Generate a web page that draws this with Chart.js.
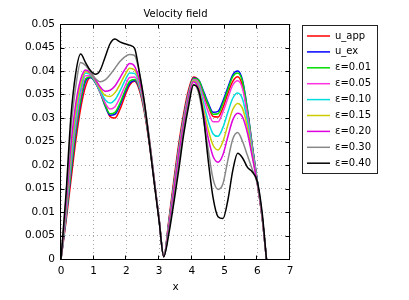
<!DOCTYPE html>
<html><head><meta charset="utf-8">
<script src="https://cdn.jsdelivr.net/npm/chart.js@4"></script>
<style>html,body{margin:0;padding:0;background:#fff;overflow:hidden}canvas{display:block}</style>
</head><body>
<canvas id="c" width="409" height="300"></canvas>
<script>
const xs = [0,0.15,0.3,0.45,0.6,0.75,0.9,1.05,1.2,1.35,1.5,1.65,1.8,1.95,2.1,2.25,2.4,2.55,2.7,2.85,3.0,3.14,
  3.3,3.45,3.6,3.75,3.9,4.05,4.2,4.35,4.5,4.65,4.8,4.95,5.1,5.25,5.4,5.55,5.7,5.85,6.0,6.15,6.28];

const uApp = [0,0.0078,0.0165,0.0250,0.0320,0.0367,0.0386,0.0379,0.0358,0.0329,0.0303,0.0300,0.0318,0.0346,0.0370,0.0378,0.0358,0.0312,0.0245,0.0165,0.0083,0.0005,
  0.0085,0.0168,0.0245,0.0310,0.0360,0.0387,0.0380,0.0350,0.0325,0.0303,0.0302,0.0322,0.0352,0.0378,0.0388,0.0368,0.0310,0.0235,0.0165,0.0088,0];
const uEx = [0,0.0084,0.0179,0.0265,0.0333,0.0378,0.0386,0.0375,0.0354,0.0325,0.0306,0.0308,0.0327,0.0353,0.0374,0.0380,0.0362,0.0316,0.0248,0.0166,0.0083,0.0005,
  0.0080,0.0160,0.0237,0.0303,0.0354,0.0385,0.0382,0.0358,0.0332,0.0312,0.0314,0.0336,0.0365,0.0392,0.0400,0.0380,0.0318,0.0240,0.0167,0.0088,0];
const eps001 = [0,0.0087,0.0185,0.0272,0.0338,0.0383,0.0388,0.0376,0.0354,0.0327,0.0309,0.0312,0.0331,0.0357,0.0378,0.0382,0.0363,0.0317,0.0249,0.0166,0.0083,0.0005,
  0.0079,0.0158,0.0235,0.0301,0.0353,0.0384,0.0381,0.0355,0.0328,0.0308,0.0309,0.0331,0.0360,0.0388,0.0396,0.0377,0.0316,0.0239,0.0166,0.0088,0];
const eps005 = [0,0.0092,0.0199,0.0286,0.0350,0.0390,0.0390,0.0377,0.0355,0.0332,0.0319,0.0324,0.0343,0.0367,0.0386,0.0387,0.0366,0.0320,0.0251,0.0167,0.0083,0.0005,
  0.0077,0.0155,0.0232,0.0298,0.0351,0.0382,0.0376,0.0345,0.0313,0.0292,0.0292,0.0313,0.0342,0.0370,0.0379,0.0362,0.0306,0.0234,0.0165,0.0088,0];
const eps010 = [0,0.0098,0.0212,0.0301,0.0362,0.0396,0.0392,0.0378,0.0358,0.0339,0.0332,0.0339,0.0357,0.0379,0.0396,0.0395,0.0371,0.0323,0.0252,0.0168,0.0083,0.0005,
  0.0075,0.0152,0.0228,0.0294,0.0348,0.0380,0.0371,0.0333,0.0293,0.0266,0.0261,0.0280,0.0312,0.0342,0.0353,0.0340,0.0292,0.0227,0.0163,0.0088,0];
const eps015 = [0,0.0104,0.0226,0.0315,0.0372,0.0399,0.0394,0.0380,0.0362,0.0348,0.0346,0.0354,0.0371,0.0391,0.0406,0.0402,0.0376,0.0326,0.0254,0.0168,0.0083,0.0005,
  0.0073,0.0149,0.0225,0.0291,0.0346,0.0379,0.0367,0.0322,0.0275,0.0242,0.0232,0.0250,0.0285,0.0318,0.0331,0.0320,0.0280,0.0221,0.0161,0.0088,0];
const eps020 = [0,0.0109,0.0239,0.0330,0.0382,0.0402,0.0396,0.0382,0.0366,0.0357,0.0359,0.0368,0.0385,0.0403,0.0416,0.0410,0.0380,0.0328,0.0255,0.0169,0.0083,0.0005,
  0.0071,0.0146,0.0222,0.0288,0.0344,0.0377,0.0363,0.0312,0.0257,0.0218,0.0206,0.0222,0.0260,0.0296,0.0310,0.0302,0.0268,0.0216,0.0160,0.0088,0];
const eps030 = [0,0.0124,0.0273,0.0366,0.0418,0.0412,0.0398,0.0384,0.0377,0.0381,0.0392,0.0406,0.0420,0.0430,0.0435,0.0433,0.0395,0.0333,0.0257,0.0170,0.0083,0.0005,
  0.0062,0.0130,0.0203,0.0275,0.0335,0.0372,0.0355,0.0300,0.0233,0.0170,0.0148,0.0160,0.0210,0.0255,0.0269,0.0250,0.0220,0.0190,0.0160,0.0090,0];
const eps040 = [0,0.0135,0.0300,0.0395,0.0436,0.0418,0.0401,0.0393,0.0402,0.0430,0.0458,0.0468,0.0462,0.0458,0.0455,0.0448,0.0395,0.0333,0.0248,0.0162,0.0080,0.0005,
  0.0055,0.0120,0.0190,0.0265,0.0325,0.0370,0.0360,0.0305,0.0210,0.0130,0.0090,0.0086,0.0125,0.0188,0.0225,0.0215,0.0195,0.0185,0.0165,0.0098,0];

const seriesLabels = ['u_app','u_ex','ε=0.01','ε=0.05','ε=0.10','ε=0.15','ε=0.20','ε=0.30','ε=0.40'];
const seriesValues = [uApp,uEx,eps001,eps005,eps010,eps015,eps020,eps030,eps040];
const seriesColors = ['#ff0000','#0000ff','#00dd00','#ff33dd','#00dddd','#cccc00','#dd00dd','#888888','#000000'];

const FONT = 'DejaVu Sans';

const datasets = seriesLabels.map((lab, k) => ({
  label: lab,
  data: xs.map((x, i) => ({x: x, y: seriesValues[k][i]})),
  borderColor: seriesColors[k],
  backgroundColor: seriesColors[k],
  borderWidth: 1.5,
  pointRadius: 0,
  fill: false,
  cubicInterpolationMode: 'monotone',
  order: seriesLabels.length - k
}));

const framePlugin = {
  id: 'frameAndLegend',
  afterDraw(chart) {
    const ctx = chart.ctx;
    const a = chart.chartArea;
    ctx.save();
    ctx.strokeStyle = '#000';
    ctx.lineWidth = 1;
    ctx.setLineDash([]);
    ctx.strokeRect(a.left - 0.5, a.top + 0.5, a.right - a.left, a.bottom - a.top);
    const tl = 4;
    ctx.beginPath();
    chart.scales.x.ticks.forEach(t => {
      const px = Math.round(chart.scales.x.getPixelForValue(t.value)) - 0.5;
      ctx.moveTo(px, a.bottom + 0.5); ctx.lineTo(px, a.bottom + 0.5 - tl);
      ctx.moveTo(px, a.top + 0.5); ctx.lineTo(px, a.top + 0.5 + tl);
    });
    chart.scales.y.ticks.forEach(t => {
      const py = Math.round(chart.scales.y.getPixelForValue(t.value)) + 0.5;
      ctx.moveTo(a.left - 0.5, py); ctx.lineTo(a.left - 0.5 + tl, py);
      ctx.moveTo(a.right - 0.5, py); ctx.lineTo(a.right - 0.5 - tl, py);
    });
    ctx.stroke();
    const bx = 302.5, by = 25.5, bw = 75, bh = 148;
    ctx.fillStyle = '#fff';
    ctx.fillRect(bx, by, bw, bh);
    ctx.strokeStyle = '#222';
    ctx.strokeRect(bx, by, bw, bh);
    ctx.font = '10px "' + FONT + '"';
    ctx.textBaseline = 'middle';
    ctx.textAlign = 'left';
    chart.data.datasets.forEach((ds, i) => {
      const y = 36 + i * 15.9;
      ctx.strokeStyle = ds.borderColor;
      ctx.lineWidth = 1.5;
      ctx.beginPath();
      ctx.moveTo(307, y); ctx.lineTo(330, y);
      ctx.stroke();
      ctx.fillStyle = '#000';
      ctx.fillText(ds.label, 335, y);
    });
    ctx.restore();
  }
};

new Chart(document.getElementById('c'), {
  type: 'line',
  data: { datasets },
  options: {
    responsive: false,
    animation: false,
    devicePixelRatio: 1,
    layout: { padding: { left: 0, right: 119, top: 0, bottom: 0 } },
    plugins: {
      legend: { display: false },
      tooltip: { enabled: false },
      title: {
        display: true,
        text: 'Velocity field',
        color: '#000',
        fullSize: false,
        font: { family: FONT, size: 10, weight: 'normal' },
        padding: { top: 8.5, bottom: 3.5 }
      }
    },
    scales: {
      x: {
        type: 'linear',
        min: 0, max: 7,
        ticks: { stepSize: 1, padding: 6, color: '#000', maxRotation: 0, font: { family: FONT, size: 10.5 } },
        grid: { color: '#a8a8a8', lineWidth: 1, drawTicks: false },
        border: { display: false, dash: [1, 3] },
        title: { display: true, text: 'x', color: '#000', font: { family: FONT, size: 10.5 }, padding: { top: 0, bottom: 6 } },
        afterFit(s) { s.height = 41; }
      },
      y: {
        type: 'linear',
        min: 0, max: 0.05,
        ticks: { stepSize: 0.005, padding: 6, color: '#000', font: { family: FONT, size: 10.5 },
          callback: v => String(parseFloat(Number(v).toFixed(3))) },
        grid: { color: '#a8a8a8', lineWidth: 1, drawTicks: false },
        border: { display: false, dash: [1, 3] },
        afterFit(s) { s.width = 61; }
      }
    }
  },
  plugins: [framePlugin]
});
</script>
</body></html>
